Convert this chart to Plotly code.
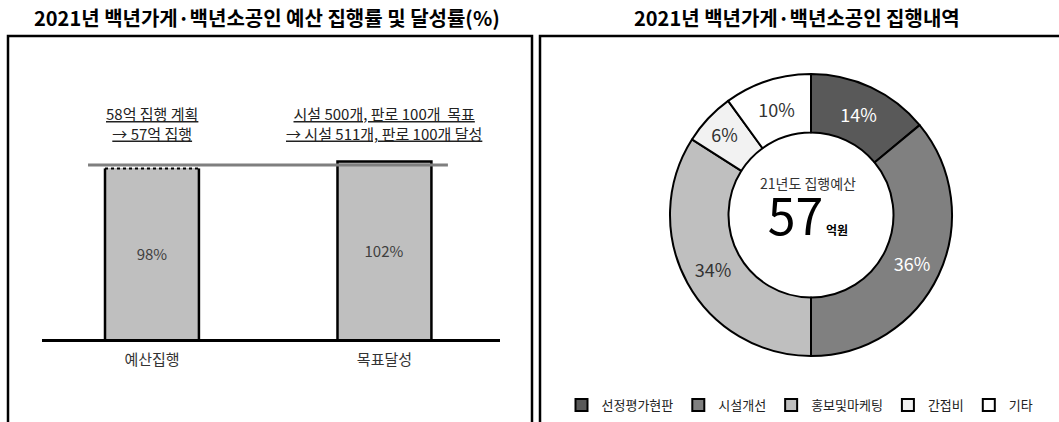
import plotly.graph_objects as go

# ---------------- data ----------------
bar_categories = ["예산집행", "목표달성"]
bar_values = [98, 102]
bar_labels = ["98%", "102%"]
target_value = 100
bar_notes = [
    "<u>58억 집행 계획</u><br><u>→ 57억 집행</u>",
    "<u>시설 500개, 판로 100개  목표</u><br><u>→ 시설 511개, 판로 100개 달성</u>",
]

pie_labels = ["선정평가현판", "시설개선", "홍보및마케팅", "간접비", "기타"]
pie_values = [14, 36, 34, 6, 10]
pie_colors = ["#595959", "#808080", "#BFBFBF", "#F2F2F2", "#FFFFFF"]
pie_text_colors = ["#FFFFFF", "#FFFFFF", "#333333", "#333333", "#333333"]
budget_label = "21년도 집행예산"
budget_total = "57"

title_left = "2021년 백년가게·백년소공인 예산 집행률 및 달성률(%)"
title_right = "2021년 백년가게·백년소공인 집행내역"

# ---------------- layout helpers ----------------
W, H = 1059, 422
FONT = "Noto Sans CJK KR"


def px(x):
    return x / W


def py(y):
    return 1 - y / H


bar_width = 0.404
xs = list(range(len(bar_categories)))

fig = go.Figure()

fig.add_trace(go.Bar(
    x=xs, y=bar_values, width=bar_width,
    marker=dict(color="#BFBFBF", line=dict(width=0)),
    text=bar_labels, textposition="inside", insidetextanchor="middle",
    textfont=dict(family=FONT, size=15, color="#404040"),
    showlegend=False, hoverinfo="skip",
))

# bar outlines (derived from bar values)
for i, v in enumerate(bar_values):
    x0, x1 = xs[i] - bar_width / 2, xs[i] + bar_width / 2
    if i == 0:
        fig.add_trace(go.Scatter(x=[x0, x0, None, x1, x1], y=[0, v, None, 0, v],
                                 mode="lines", line=dict(color="black", width=2.5),
                                 showlegend=False, hoverinfo="skip"))
        fig.add_trace(go.Scatter(x=[x0, x1], y=[v, v], mode="lines",
                                 line=dict(color="black", width=2, dash="dot"),
                                 showlegend=False, hoverinfo="skip"))
    else:
        fig.add_trace(go.Scatter(x=[x0, x0, x1, x1], y=[0, v, v, 0],
                                 mode="lines", line=dict(color="black", width=2.5),
                                 showlegend=False, hoverinfo="skip"))

# target line
fig.add_trace(go.Scatter(x=[-0.275, 1.273], y=[target_value, target_value], mode="lines",
                         line=dict(color="#7F7F7F", width=3),
                         showlegend=False, hoverinfo="skip"))

# notes above bars
for i, note in enumerate(bar_notes):
    fig.add_annotation(x=xs[i], xref="x", y=py(124), yref="paper", text=note,
                       showarrow=False, font=dict(family=FONT, size=15, color="#222222"),
                       xanchor="center", yanchor="middle")

# ---------------- donut ----------------
cx, cy, r = 811, 215, 141
fig.add_trace(go.Pie(
    labels=pie_labels, values=pie_values, sort=False, direction="clockwise", rotation=0,
    hole=0.585,
    marker=dict(colors=pie_colors, line=dict(color="black", width=2)),
    texttemplate="%{value}%", textposition="inside", insidetextorientation="horizontal",
    textfont=dict(family=FONT, size=18, color=pie_text_colors),
    domain=dict(x=[px(cx - r), px(cx + r)], y=[py(cy + r), py(cy - r)]),
    hoverinfo="label+percent",
))

center_text = (
    "<span style='font-size:14px;color:#333333'>" + budget_label + "</span><br>"
    + "<span style='font-size:50px'>" + budget_total + "</span>"
    + "<span style='font-size:12px'><b> 억원</b></span>"
)
fig.add_annotation(x=px(808), y=py(211), xref="paper", yref="paper",
                   text=center_text, showarrow=False, xanchor="center", yanchor="middle",
                   font=dict(family=FONT, size=35, color="black"))

# titles
fig.add_annotation(x=px(267), y=py(17), xref="paper", yref="paper", text="<b>" + title_left + "</b>",
                   showarrow=False, xanchor="center", yanchor="middle",
                   font=dict(family=FONT, size=20, color="black"))
fig.add_annotation(x=px(797), y=py(17), xref="paper", yref="paper", text="<b>" + title_right + "</b>",
                   showarrow=False, xanchor="center", yanchor="middle",
                   font=dict(family=FONT, size=20, color="black"))

# panel borders
fig.add_shape(type="rect", xref="paper", yref="paper", x0=px(8), x1=px(532), y0=-0.2, y1=py(36),
              line=dict(color="black", width=2.5), layer="below")
fig.add_shape(type="rect", xref="paper", yref="paper", x0=px(540), x1=1.2, y0=-0.2, y1=py(36),
              line=dict(color="black", width=2.5), layer="below")

fig.update_layout(
    width=W, height=H, margin=dict(l=0, r=0, t=0, b=0),
    paper_bgcolor="white", plot_bgcolor="rgba(0,0,0,0)",
    font=dict(family=FONT),
    bargap=0,
    xaxis=dict(domain=[px(42), px(500)], range=[-0.473, 1.497],
               tickvals=xs, ticktext=bar_categories, showline=True, linecolor="black",
               linewidth=2.5, showgrid=False, zeroline=False, ticks="",
               ticklabelstandoff=5,
               tickfont=dict(family=FONT, size=15, color="#333333")),
    yaxis=dict(domain=[py(339), py(60)], range=[0, 160.3], visible=False, showgrid=False),
    legend=dict(orientation="h", x=px(800), xanchor="center", y=py(405), yanchor="middle",
                font=dict(family=FONT, size=13, color="#222222"), itemwidth=30,
                bgcolor="rgba(0,0,0,0)"),
)

fig.write_html("out.html", config={"displayModeBar": False},
               post_script="document.body.style.margin='0';")
